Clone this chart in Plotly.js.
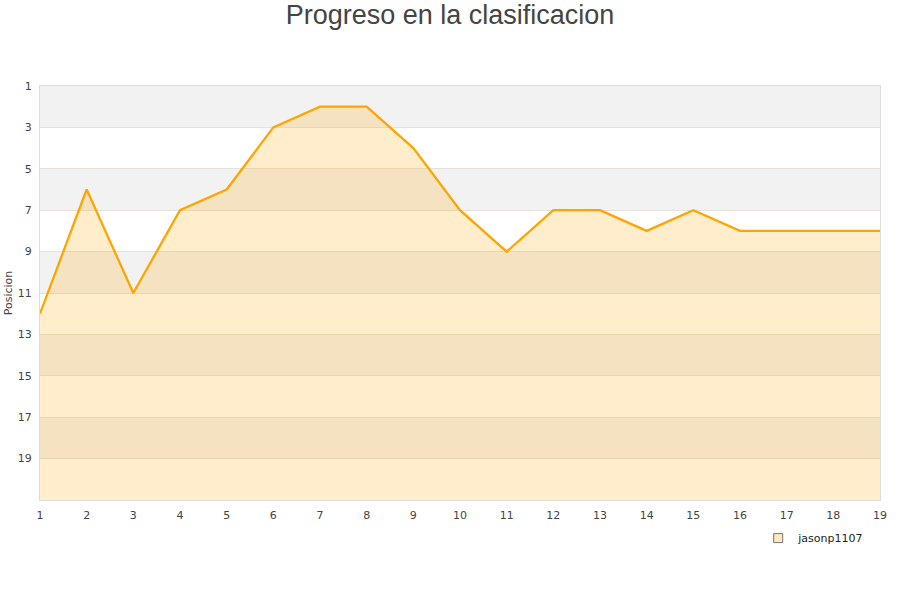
<!DOCTYPE html>
<html>
<head>
<meta charset="utf-8">
<script src="https://cdn.plot.ly/plotly-3.0.1.min.js"></script>
<style>html,body{margin:0;padding:0;background:#fff;}#chart{width:900px;height:600px;}</style>
</head>
<body>
<div id="chart"></div>
<script>
var jornadas = [1,2,3,4,5,6,7,8,9,10,11,12,13,14,15,16,17,18,19];
var posiciones = [12,6,11,7,6,3,2,2,4,7,9,7,7,8,7,8,8,8,8];
var yTicks = [1,3,5,7,9,11,13,15,17,19];
var yBottom = 21;
var serieNombre = 'jasonp1107';

var baseline = jornadas.map(function(){ return yBottom; });

var shapes = [];
yTicks.forEach(function(t, i){
  if (i % 2 === 0) {
    shapes.push({type:'rect', xref:'paper', yref:'y', x0:0, x1:1, y0:t, y1:t+2,
      fillcolor:'#f2f2f2', line:{width:0}, layer:'below'});
  }
});

var traces = [
  {x: jornadas, y: baseline, mode:'lines', line:{width:0, color:'rgba(0,0,0,0)'},
   hoverinfo:'skip', showlegend:false},
  {x: jornadas, y: posiciones, mode:'lines', fill:'tonexty',
   fillcolor:'rgba(255,165,0,0.2)', line:{color:'#FFA500', width:2.3},
   name: serieNombre, showlegend:false},
  {x:[null], y:[null], mode:'markers', name: serieNombre,
   marker:{symbol:'square', size:9, color:'#fde9c4', line:{color:'#777', width:1}}}
];

var layout = {
  width:900, height:600,
  margin:{l:40, r:20, t:86, b:100},
  paper_bgcolor:'#fff', plot_bgcolor:'rgba(0,0,0,0)',
  title:{text:'Progreso en la clasificacion', x:0.5, xanchor:'center', y:0.975, yanchor:'middle',
    font:{family:'Liberation Sans, Arial, sans-serif', size:27, color:'#444'}},
  font:{family:'DejaVu Sans, sans-serif', size:11, color:'#444'},
  xaxis:{range:[1,19], tickvals:jornadas, showgrid:false, zeroline:false,
    showline:true, linecolor:'#ddd', mirror:true, ticks:'', ticklen:0, ticklabelstandoff:5,
    tickfont:{size:11, color:'#444'}},
  yaxis:{range:[yBottom,1], autorange:false, tickvals:yTicks, showgrid:true, gridcolor:'#e6e1da',
    zeroline:false, showline:true, linecolor:'#ddd', mirror:true, ticks:'', ticklabelstandoff:5,
    tickfont:{size:11, color:'#444'},
    title:{text:'Posicion', font:{size:11, color:'#444'}, standoff:2}},
  shapes: shapes,
  legend:{x:0.855, y:-0.092, xanchor:'left', yanchor:'middle', bgcolor:'rgba(0,0,0,0)',
    font:{size:11, color:'#222'}},
  showlegend:true
};

Plotly.newPlot('chart', traces, layout, {displayModeBar:false, staticPlot:true});
</script>
</body>
</html>
